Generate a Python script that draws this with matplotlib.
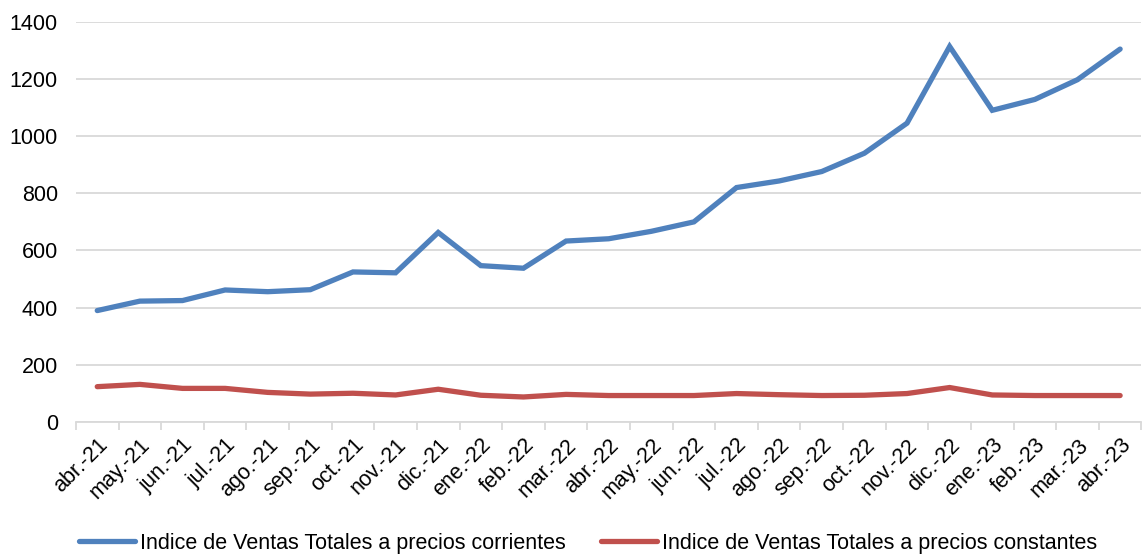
import numpy as np
import matplotlib.pyplot as plt

plt.rcParams['font.family'] = ['Liberation Sans', 'DejaVu Sans']

meses = ['abr.-21', 'may.-21', 'jun.-21', 'jul.-21', 'ago.-21', 'sep.-21', 'oct.-21',
         'nov.-21', 'dic.-21', 'ene.-22', 'feb.-22', 'mar.-22', 'abr.-22', 'may.-22',
         'jun.-22', 'jul.-22', 'ago.-22', 'sep.-22', 'oct.-22', 'nov.-22', 'dic.-22',
         'ene.-23', 'feb.-23', 'mar.-23', 'abr.-23']
corrientes = [390, 423, 425, 462, 456, 463, 525, 522, 663, 547, 538, 633, 641, 667,
              700, 820, 843, 876, 940, 1045, 1313, 1090, 1128, 1197, 1304]
constantes = [124, 132, 118, 118, 104, 98, 101, 95, 115, 94, 88, 97, 93, 93,
              93, 100, 96, 93, 94, 100, 121, 95, 93, 93, 93]

fig = plt.figure(figsize=(11.42, 5.54), dpi=100)
ax = fig.add_axes([0.0665, 0.238, 0.933, 0.723])

x = np.arange(len(meses))
ax.plot(x, corrientes, color='#4f81bd', lw=3.8, solid_capstyle='round',
        solid_joinstyle='miter', label='Indice de Ventas Totales a precios corrientes')
ax.plot(x, constantes, color='#c0504d', lw=3.8, solid_capstyle='round',
        solid_joinstyle='miter', label='Indice de Ventas Totales a precios constantes')

ax.set_xlim(-0.5, len(meses) - 0.5)
ax.set_ylim(0, 1400)
ax.set_yticks(range(0, 1401, 200))
ax.yaxis.grid(True, color='#d9d9d9', lw=1.3)
ax.set_axisbelow(True)
ax.tick_params(axis='y', length=0, labelsize=15.5, pad=13)

ax.set_xticks(x)
ax.set_xticklabels(meses, rotation=45, ha='right', rotation_mode='anchor', fontsize=15.5)
ax.set_xticks(np.arange(-0.5, len(meses), 1), minor=True)
ax.tick_params(axis='x', which='major', length=0, pad=9)
ax.tick_params(axis='x', which='minor', length=6, color='#d9d9d9', width=1.3)

for s in ['top', 'right', 'left']:
    ax.spines[s].set_visible(False)
ax.spines['bottom'].set_color('#d9d9d9')
ax.spines['bottom'].set_linewidth(1.3)

fig.legend(loc='lower center', bbox_to_anchor=(0.515, -0.035), ncol=2, frameon=False,
           fontsize=15.5, handlelength=2.6, handletextpad=0.25, columnspacing=1.6)

fig.savefig('out.png', dpi=100)
